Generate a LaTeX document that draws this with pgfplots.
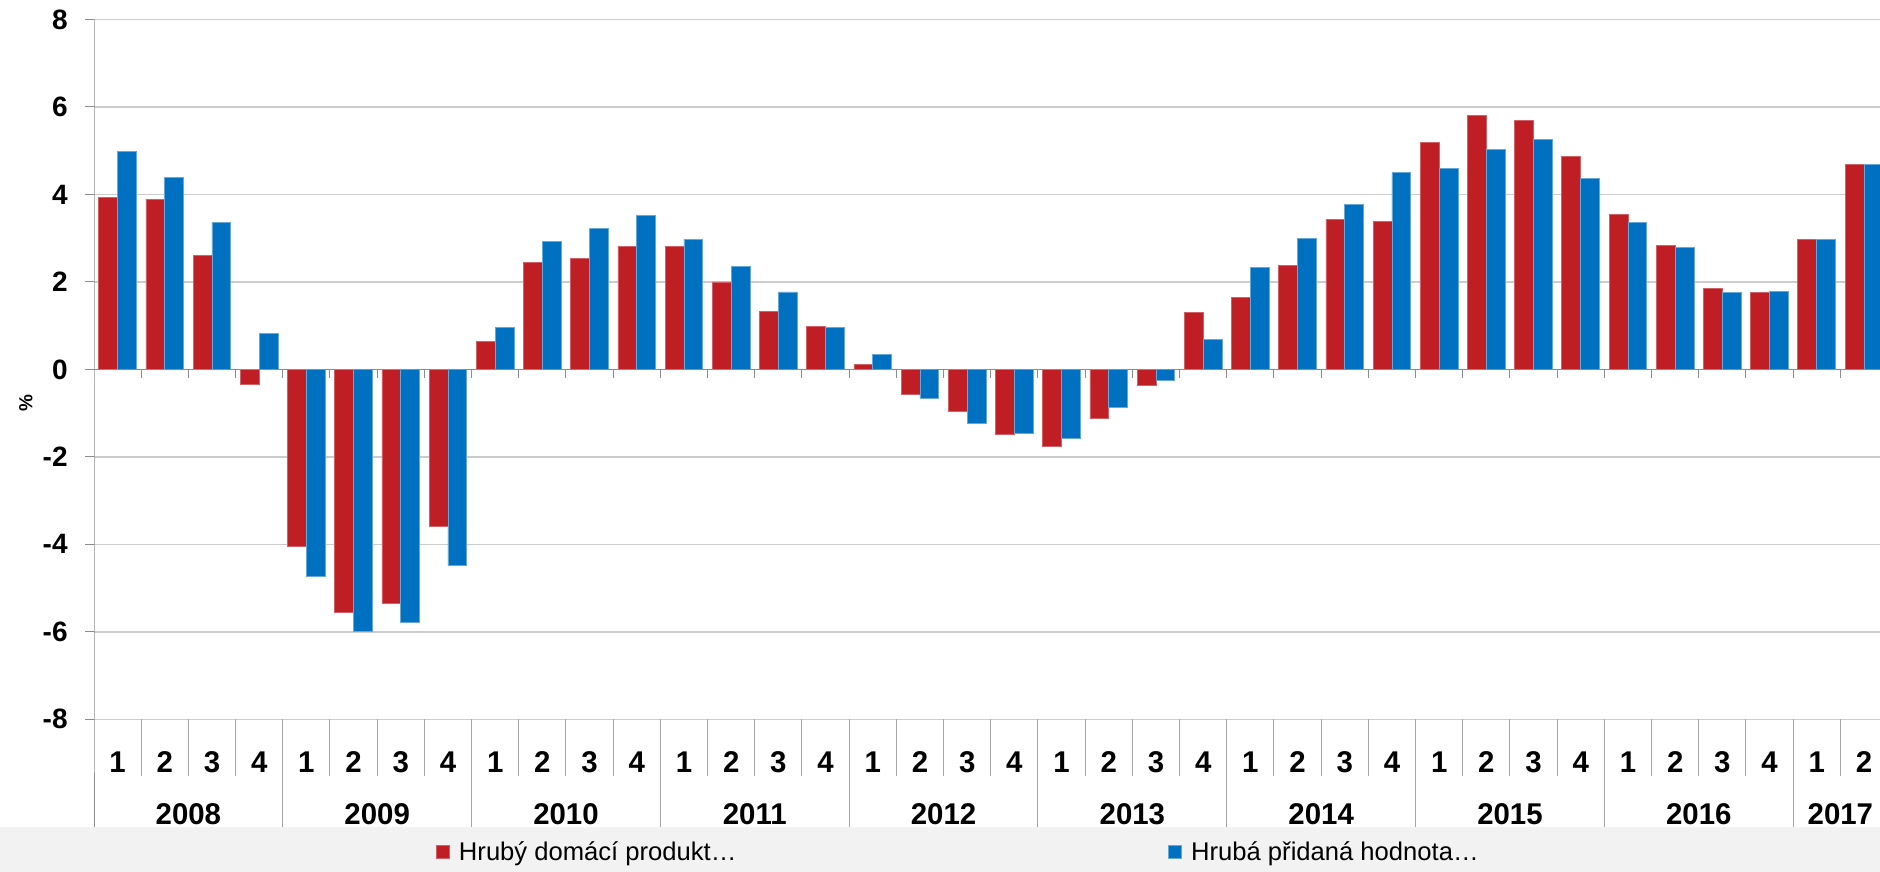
\documentclass[border=0pt]{standalone}
\usepackage{fontspec}
\setmainfont{Liberation Sans}
\newfontfamily\narrowfont[FakeStretch=0.98]{Liberation Sans}
\usepackage{pgfplots}
\usepackage{pgfplotstable}
\pgfplotsset{compat=1.18}
\definecolor{gdpred}{RGB}{190,30,36}
\definecolor{gvablue}{RGB}{0,112,192}
\definecolor{gridgray}{RGB}{204,204,204}
\definecolor{axgray}{RGB}{140,140,140}
\definecolor{sepgray}{RGB}{166,166,166}
\definecolor{legbg}{RGB}{242,242,242}

\pgfplotstableread{
x gdp gva
0 3.94 4.99
1 3.89 4.39
2 2.60 3.36
3 -0.34 0.83
4 -4.05 -4.74
5 -5.56 -6.00
6 -5.34 -5.78
7 -3.58 -4.49
8 0.64 0.96
9 2.44 2.92
10 2.53 3.22
11 2.81 3.52
12 2.81 2.98
13 2.00 2.36
14 1.32 1.77
15 0.99 0.95
16 0.11 0.34
17 -0.57 -0.66
18 -0.95 -1.24
19 -1.48 -1.46
20 -1.76 -1.57
21 -1.13 -0.86
22 -0.36 -0.25
23 1.30 0.69
24 1.64 2.34
25 2.37 2.99
26 3.43 3.78
27 3.39 4.50
28 5.19 4.59
29 5.80 5.03
30 5.70 5.26
31 4.87 4.36
32 3.54 3.36
33 2.84 2.79
34 1.85 1.75
35 1.75 1.78
36 2.98 2.98
37 4.68 4.68
}\datatable

\begin{document}
\begin{tikzpicture}
\useasboundingbox (0,0) rectangle (940pt,436pt);
\fill[legbg] (0,0) rectangle (940pt,22.65pt);
\begin{axis}[
  at={(47pt,76.35pt)}, anchor=south west,
  scale only axis, width=893pt, height=349.9pt,
  xmin=-0.5, xmax=37.34, ymin=-8, ymax=8,
  enlargelimits=false,
  clip mode=individual,
  axis line style={draw=none},
  ytick={-8,-6,...,8},
  ymajorgrids, grid style={gridgray, line width=0.7pt},
  tick align=outside, ytick pos=left,
  major tick length=4.5pt,
  ytick style={axgray, line width=0.5pt},
  xtick={0,...,37},
  xticklabels={1,2,3,4,1,2,3,4,1,2,3,4,1,2,3,4,1,2,3,4,1,2,3,4,1,2,3,4,1,2,3,4,1,2,3,4,1,2},
  xtick style={draw=none},
  /pgf/number format/assume math mode=true,
  yticklabel style={font=\bfseries\fontsize{14}{16}\selectfont, anchor=east, inner sep=0pt, xshift=-8.5pt},
  xticklabel style={font=\narrowfont\bfseries\fontsize{15}{17}\selectfont, anchor=center, inner sep=0pt, yshift=-17pt},
  legend style={at={(axis description cs:0,0)}, anchor=west, xshift=170.9pt, yshift=-66.5pt,
    draw=none, fill=none, inner xsep=0pt, inner ysep=0pt,
    font=\fontsize{12.8}{15}\selectfont, legend columns=2,
    nodes={inner sep=2pt}},
  legend image code/.code={\fill[#1] (0pt,-3.25pt) rectangle (6.5pt,3.25pt);},
]
\addplot[ybar, bar width=0.4, bar shift=-0.2, fill=gdpred, draw=gdpred!70!white, line width=0.4pt]
  table[x=x, y=gdp] {\datatable};
\addlegendentry{\makebox[355.2pt][l]{\hspace{2.5pt}Hrubý domácí produkt…}}
\addplot[ybar, bar width=0.4, bar shift=0.2, fill=gvablue, draw=gvablue!60!white, line width=0.4pt]
  table[x=x, y=gva] {\datatable};
\addlegendentry{\hspace{2.5pt}Hrubá přidaná hodnota…}

% y axis line and zero line
\draw[axgray, line width=0.5pt] (axis cs:-0.5,8) -- (axis cs:-0.5,-8) -- ++(0pt,-53.7pt);
\draw[axgray, line width=0.7pt] (axis cs:-0.5,0) -- (axis cs:37.34,0);
\pgfplotsinvokeforeach{0,...,36}{
  \draw[axgray, line width=0.5pt] (axis cs:#1+0.5,0) -- ++(0pt,-4.5pt);
}
% quarter separators
\pgfplotsinvokeforeach{0,1,2,4,5,6,8,9,10,12,13,14,16,17,18,20,21,22,24,25,26,28,29,30,32,33,34,36}{
  \draw[sepgray, line width=0.5pt] (axis cs:#1+0.5,-8) -- ++(0pt,-28.5pt);
}
% year separators
\pgfplotsinvokeforeach{3,7,11,15,19,23,27,31,35}{
  \draw[sepgray, line width=0.5pt] (axis cs:#1+0.5,-8) -- ++(0pt,-53.7pt);
}
% year labels
\tikzset{yl/.style={font=\narrowfont\bfseries\fontsize{15}{17}\selectfont, inner sep=0pt, anchor=center, yshift=-47.3pt}}
\node[yl] at (axis cs:1.5,-8) {2008};
\node[yl] at (axis cs:5.5,-8) {2009};
\node[yl] at (axis cs:9.5,-8) {2010};
\node[yl] at (axis cs:13.5,-8) {2011};
\node[yl] at (axis cs:17.5,-8) {2012};
\node[yl] at (axis cs:21.5,-8) {2013};
\node[yl] at (axis cs:25.5,-8) {2014};
\node[yl] at (axis cs:29.5,-8) {2015};
\node[yl] at (axis cs:33.5,-8) {2016};
\node[yl] at (axis cs:36.5,-8) {2017};
\end{axis}
\node[rotate=90, font=\bfseries\fontsize{9.5}{11}\selectfont, inner sep=0pt] at (12.9pt,234.25pt) {\%};
\end{tikzpicture}
\end{document}
